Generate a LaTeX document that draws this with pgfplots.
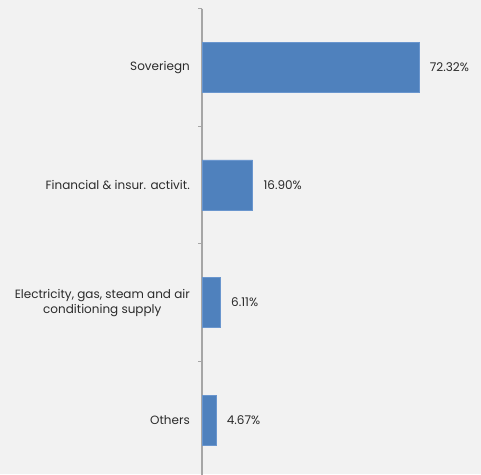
\documentclass[border=0pt]{standalone}
\usepackage{pgfplots}
\pgfplotsset{compat=1.18}
\usepackage{fontspec}
\setmainfont{Poppins}
\definecolor{bg}{HTML}{F2F2F2}
\definecolor{barblue}{HTML}{4F81BD}
\definecolor{baredge}{HTML}{6A96CE}
\definecolor{axgray}{HTML}{A6A6A6}
\definecolor{txt}{HTML}{2B2B2B}
\begin{document}
\begin{tikzpicture}
\fill[bg] (0,0) rectangle (481pt,474pt);
\begin{axis}[
  at={(202pt,-5pt)}, anchor=south west,
  scale only axis, width=279pt, height=470.5pt,
  xmin=0, xmax=93, ymin=-0.5, ymax=3.5, y dir=reverse,
  axis x line=none, axis y line*=left,
  y axis line style={axgray, line width=1.2pt},
  xtick=\empty,
  ytick={0,1,2,3},
  yticklabels={Soveriegn, Financial \& insur. activit., {Electricity, gas, steam and air\\conditioning supply}, Others},
  minor ytick={-0.5,0.5,1.5,2.5,3.5},
  major tick length=0pt, minor tick length=4pt, tick align=outside,
  minor tick style={axgray, line width=1pt},
  yticklabel style={font=\fontsize{12}{15}\selectfont, text=txt, align=center, inner sep=0pt, xshift=-12pt},
  xbar, bar width=50pt,
  /pgf/number format/assume math mode=true,
  nodes near coords={\pgfmathprintnumber[fixed,fixed zerofill,precision=2]{\pgfplotspointmeta}\%},
  point meta=x,
  nodes near coords style={font=\fontsize{12}{14}\selectfont, text=txt, anchor=west, inner sep=0pt, xshift=10.5pt},
  clip=false,
]
\addplot[fill=barblue, draw=baredge, line width=0.8pt] coordinates {(72.32,0) (16.90,1) (6.11,2) (4.67,3)};
\end{axis}
\pgfresetboundingbox
\useasboundingbox (0,0) rectangle (481pt,474pt);
\end{tikzpicture}
\end{document}
